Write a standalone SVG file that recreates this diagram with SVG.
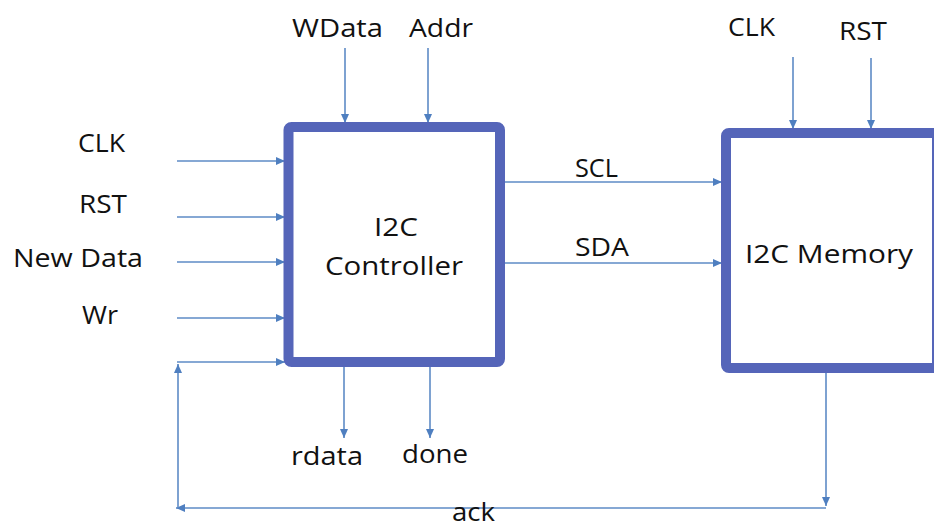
<svg xmlns="http://www.w3.org/2000/svg" width="934" height="527" viewBox="0 0 934 527">
  <style>
    .box { fill: #ffffff; stroke: #5565B9; stroke-width: 10; }
    .wire { fill: none; stroke: #5E8BC6; stroke-width: 1.6; }
    .arr { marker-end: url(#ah); }
    text { font-family: "Open Sans", "Liberation Sans", sans-serif; font-size: 25px; fill: #111111; }
  </style>
  <defs>
    <marker id="ah" markerUnits="userSpaceOnUse" markerWidth="10" markerHeight="9" refX="9" refY="4" orient="auto">
      <path d="M0,0 L9,4 L0,8 z" fill="#4F7FC0"/>
    </marker>
  </defs>
  <rect x="0" y="0" width="934" height="527" fill="#ffffff"/>

  <g id="connectors">
    <line class="wire arr" x1="177" y1="161" x2="285" y2="161"/>
    <line class="wire arr" x1="177" y1="217" x2="285" y2="217"/>
    <line class="wire arr" x1="177" y1="262" x2="285" y2="262"/>
    <line class="wire arr" x1="177" y1="318" x2="285" y2="318"/>
    <line class="wire arr" x1="177" y1="362" x2="285" y2="362"/>
    <line class="wire arr" x1="345" y1="48" x2="345" y2="123"/>
    <line class="wire arr" x1="428" y1="48" x2="428" y2="123"/>
    <line class="wire arr" x1="344" y1="367" x2="344" y2="438"/>
    <line class="wire arr" x1="430" y1="367" x2="430" y2="438"/>
    <line class="wire arr" x1="505" y1="182" x2="722" y2="182"/>
    <line class="wire arr" x1="505" y1="263" x2="722" y2="263"/>
    <line class="wire arr" x1="793" y1="57" x2="793" y2="129"/>
    <line class="wire arr" x1="871" y1="58" x2="871" y2="129"/>
    <line class="wire arr" x1="826" y1="373" x2="826" y2="506"/>
    <line class="wire arr" x1="826" y1="508" x2="176" y2="508"/>
    <line class="wire arr" x1="178" y1="508" x2="178" y2="364"/>
  </g>

  <g id="controller">
    <rect class="box" x="288.5" y="127" width="211.5" height="235" rx="3"/>
    <text x="374" y="236" textLength="44" lengthAdjust="spacingAndGlyphs">I2C</text>
    <text x="325" y="275" textLength="138" lengthAdjust="spacingAndGlyphs">Controller</text>
  </g>

  <g id="memory">
    <rect class="box" x="726" y="133" width="211" height="235" rx="3"/>
    <text x="745" y="263" textLength="168" lengthAdjust="spacingAndGlyphs">I2C Memory</text>
  </g>

  <g id="labels">
    <text x="78" y="152" textLength="47" lengthAdjust="spacingAndGlyphs">CLK</text>
    <text x="79" y="213" textLength="48" lengthAdjust="spacingAndGlyphs">RST</text>
    <text x="13" y="267" textLength="130" lengthAdjust="spacingAndGlyphs">New Data</text>
    <text x="82" y="324" textLength="36" lengthAdjust="spacingAndGlyphs">Wr</text>
    <text x="292" y="37" textLength="91" lengthAdjust="spacingAndGlyphs">WData</text>
    <text x="409" y="37" textLength="64" lengthAdjust="spacingAndGlyphs">Addr</text>
    <text x="575" y="177" textLength="43" lengthAdjust="spacingAndGlyphs">SCL</text>
    <text x="575" y="256" textLength="54" lengthAdjust="spacingAndGlyphs">SDA</text>
    <text x="728" y="36" textLength="47" lengthAdjust="spacingAndGlyphs">CLK</text>
    <text x="839" y="40" textLength="48" lengthAdjust="spacingAndGlyphs">RST</text>
    <text x="291" y="465" textLength="72" lengthAdjust="spacingAndGlyphs">rdata</text>
    <text x="402" y="463" textLength="66" lengthAdjust="spacingAndGlyphs">done</text>
    <text x="452" y="521" textLength="43" lengthAdjust="spacingAndGlyphs">ack</text>
  </g>
</svg>
